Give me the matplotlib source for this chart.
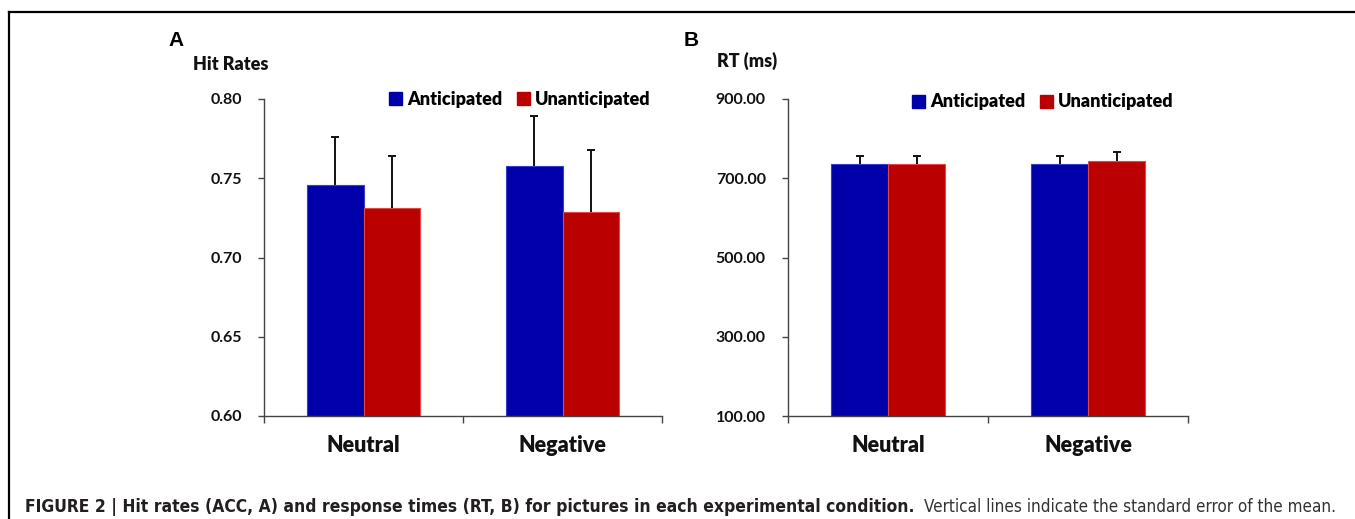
import matplotlib
matplotlib.use("Agg")
import matplotlib.pyplot as plt
from matplotlib.lines import Line2D
from matplotlib.patches import Patch
import numpy as np

# ---- data ----
categories = ["Neutral", "Negative"]
series = ["Anticipated", "Unanticipated"]
hit_anticipated = [0.746, 0.758]
hit_unanticipated = [0.731, 0.729]
hit_se_anticipated = [0.030, 0.031]
hit_se_unanticipated = [0.033, 0.039]
rt_anticipated = [737.0, 735.0]
rt_unanticipated = [735.0, 744.0]
rt_se_anticipated = [19.0, 21.0]
rt_se_unanticipated = [21.0, 21.0]
hit_ticks = [0.60, 0.65, 0.70, 0.75, 0.80]
rt_ticks = [100, 300, 500, 700, 900]

BLUE = "#0000AA"
RED = "#BB0000"
CHART_FONT = ["Lato", "DejaVu Sans"]
CAP_FONT = ["Liberation Sans Narrow", "DejaVu Sans"]
LABEL_WEIGHT = 800

W, H = 1355, 519
fig = plt.figure(figsize=(W / 100, H / 100), dpi=100)
fig.patch.set_facecolor("white")


def fx(px):
    return px / W


def fy(py):
    return 1 - py / H


def add_err(ax, xs, ys, se):
    cont = ax.errorbar(xs, ys, yerr=[np.zeros(len(ys)), se], fmt="none",
                       ecolor="#111111", elinewidth=1.4, capsize=3.2, capthick=1.4, zorder=3)
    caps = cont[1]
    if len(caps) >= 2:
        caps[0].set_visible(False)


def panel(left_px, right_px, ant, unant, se_a, se_u, ticks, fmt, ylabel, ylabel_x, ylabel_y,
          letter, letter_x, legend_cx, legend_y):
    ax = fig.add_axes([fx(left_px), fy(416), fx(right_px - left_px), (416 - 99) / H])
    x = np.arange(len(categories))
    w = 0.285
    ax.bar(x - w / 2, ant, w, color=BLUE, edgecolor="#3040C8", linewidth=0.8, zorder=2)
    ax.bar(x + w / 2, unant, w, color=RED, edgecolor="#E04848", linewidth=0.8, zorder=2)
    add_err(ax, x - w / 2, ant, se_a)
    add_err(ax, x + w / 2, unant, se_u)
    ax.set_xlim(-0.5, len(categories) - 0.5)
    ax.set_ylim(ticks[0], ticks[-1])
    ax.set_yticks(ticks)
    ax.set_yticklabels([fmt.format(t) for t in ticks], fontfamily=CHART_FONT,
                       fontweight="bold", fontsize=11.5, color="#111111")
    ax.set_xticks(np.arange(-0.5, len(categories), 1.0))
    ax.set_xticklabels([])
    ax.set_xticks(x, minor=True)
    ax.set_xticklabels(categories, minor=True, fontfamily=CHART_FONT,
                       fontweight=LABEL_WEIGHT, fontsize=15.5, color="#111111")
    ax.tick_params(axis="x", which="minor", length=0, pad=14)
    ax.tick_params(axis="x", which="major", length=5, width=1, color="#444444", direction="out")
    ax.tick_params(axis="y", length=4, width=1, color="#444444", direction="out", pad=12)
    for s in ["top", "right"]:
        ax.spines[s].set_visible(False)
    for s in ["left", "bottom"]:
        ax.spines[s].set_color("#444444")
        ax.spines[s].set_linewidth(1.0)
    handles = [Patch(facecolor=BLUE, edgecolor=BLUE), Patch(facecolor=RED, edgecolor=RED)]
    ax.legend(handles, series, loc="center",
              bbox_to_anchor=((legend_cx - left_px) / (right_px - left_px),
                              (416 - legend_y) / (416 - 99)),
              ncol=2, frameon=False, handlelength=0.7, handleheight=0.7,
              handletextpad=0.3, columnspacing=0.8, borderpad=0, borderaxespad=0,
              prop={"family": CHART_FONT, "weight": LABEL_WEIGHT, "size": 13})
    fig.text(fx(ylabel_x), fy(ylabel_y), ylabel, ha="center", va="center",
             fontfamily=CHART_FONT, fontweight=LABEL_WEIGHT, fontsize=13, color="#111111")
    fig.text(fx(letter_x), fy(40), letter, ha="center", va="center",
             fontfamily=["Liberation Sans", "DejaVu Sans"], fontweight="bold", fontsize=15,
             color="black")
    return ax


panel(264, 662, hit_anticipated, hit_unanticipated, hit_se_anticipated, hit_se_unanticipated,
      hit_ticks, "{:.2f}", "Hit Rates", 231, 64, "A", 176, 520, 99)
panel(788, 1188, rt_anticipated, rt_unanticipated, rt_se_anticipated, rt_se_unanticipated,
      rt_ticks, "{:.2f}", "RT (ms)", 747, 61, "B", 691, 1043, 102)

# frame lines
fig.add_artist(Line2D([fx(8.5), 1.0], [fy(11.5), fy(11.5)], color="black", linewidth=1.6))
fig.add_artist(Line2D([fx(8.5), fx(8.5)], [fy(11.5), 0.0], color="black", linewidth=1.6))

# caption
bold_txt = "FIGURE 2 | Hit rates (ACC, A) and response times (RT, B) for pictures in each experimental condition."
norm_txt = "Vertical lines indicate the standard error of the mean."
fig.canvas.draw()
r = fig.canvas.get_renderer()
t1 = fig.text(fx(25), fy(507), bold_txt, ha="left", va="center", fontfamily=CAP_FONT,
              fontstretch="condensed", fontweight="bold", fontsize=13, color="#231f20")
bb = t1.get_window_extent(renderer=r)
t1.set_fontsize(13 * 888.0 / bb.width)
bb = t1.get_window_extent(renderer=r)
t2 = fig.text(fx(bb.x1 + 10), fy(507), norm_txt, ha="left", va="center", fontfamily=CAP_FONT,
              fontstretch="condensed", fontweight="normal", fontsize=13, color="#333333")
bb2 = t2.get_window_extent(renderer=r)
t2.set_fontsize(13 * 412.0 / bb2.width)

fig.savefig("out.png", dpi=100, facecolor="white")
